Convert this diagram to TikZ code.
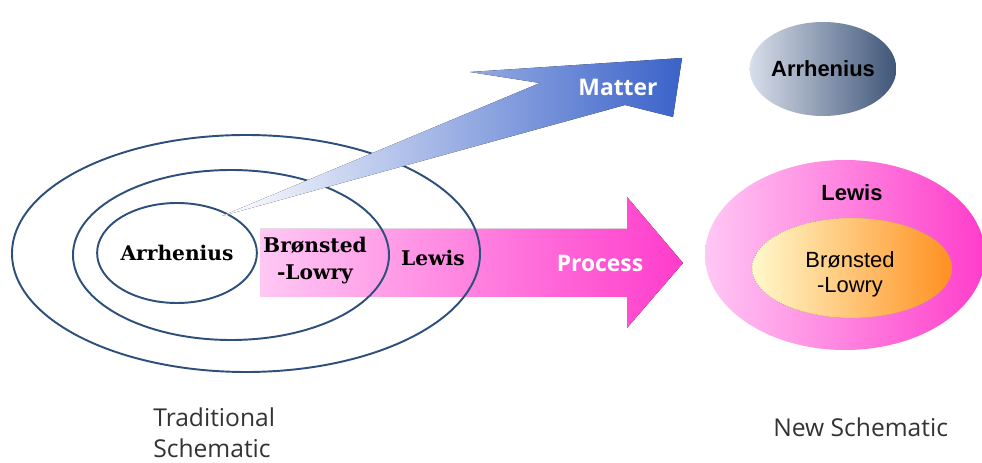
\documentclass[tikz,border=0pt]{standalone}
\usepackage{fontspec}
\usetikzlibrary{shapes.geometric}
\setmainfont{Open Sans}
\newfontfamily\slabfont{DejaVu Serif}
\newfontfamily\arialfont{Liberation Sans}
\definecolor{ringline}{HTML}{2C4F7C}
\definecolor{pinklight}{HTML}{FFC8F4}
\definecolor{pinkdeep}{HTML}{FF3CCB}
\definecolor{matterblue}{HTML}{3A62C9}
\definecolor{slatelight}{HTML}{D8DEEA}
\definecolor{slatedark}{HTML}{3F5678}
\definecolor{creamlight}{HTML}{FFF9CC}
\definecolor{orangedeep}{HTML}{FF9020}
\definecolor{rimgreen}{HTML}{A0A880}
\definecolor{captiongray}{HTML}{333333}

\begin{document}
\begin{tikzpicture}[
  ring/.style={ellipse, draw=ringline, line width=1.1pt, inner sep=0pt},
  oldlabel/.style={font=\slabfont\bfseries\fontsize{11.5}{15.4}\selectfont, align=center},
  newlabel/.style={font=\arialfont\fontsize{12.5}{14.2}\selectfont, align=center},
  boldlabel/.style={font=\arialfont\bfseries\fontsize{12.5}{14.2}\selectfont},
  flowlabel/.style={font=\bfseries\fontsize{13}{15}\selectfont, text=white},
  caption/.style={font=\fontsize{14}{18}\selectfont, text=captiongray, align=left, anchor=north west, inner sep=0pt}
]
  \useasboundingbox (0,0) rectangle (19.64,9.24);
  \fill[left color=pinklight, right color=pinkdeep] (5.2,4.66) -- (12.54,4.66) -- (12.54,5.30) -- (13.66,3.98) -- (12.54,2.68) -- (12.54,3.30) -- (5.2,3.30) -- cycle;
  \node[flowlabel] (process) at (12.0,3.98) {Process};

  \node[ring, minimum width=9.36cm, minimum height=4.74cm] (outer) at (4.92,4.17) {};
  \node[ring, minimum width=6.32cm, minimum height=3.4cm] (middle) at (4.62,4.14) {};
  \node[ring, oldlabel, minimum width=2.68cm, minimum height=2.0cm] (inner) at (3.54,4.18) {Arrhenius};
  \node[oldlabel] (bronsted) at (6.3,4.02) {Brønsted\\-Lowry};
  \node[oldlabel] (lewis) at (8.66,4.08) {Lewis};

  \fill[left color=white, middle color=matterblue!78!white, right color=matterblue] (4.44,4.92) -- (10.8,7.58) -- (9.4,7.8) -- (13.64,8.08) -- (13.46,6.9) -- (12.5,7.14) -- cycle;
  \node[flowlabel] (matter) at (12.36,7.5) {Matter};

  \node[ellipse, inner sep=0pt, left color=slatelight, right color=slatedark, minimum width=2.8cm, minimum height=1.88cm, boldlabel] (arrheniusnew) at (16.46,7.86) {Arrhenius};
  \node[ellipse, inner sep=0pt, left color=pinklight, right color=pinkdeep, minimum width=5.6cm, minimum height=3.8cm] (lewisnew) at (16.9,4.14) {};
  \node[ellipse, inner sep=0pt, draw=rimgreen, densely dotted, left color=creamlight, right color=orangedeep, minimum width=4cm, minimum height=2cm] (bronstednew) at (17.04,3.88) {};
  \node[boldlabel] (lewistext) at (17.04,5.38) {Lewis};
  \node[newlabel] (bronstedtext) at (17.0,3.75) {Brønsted\\-Lowry};

  \node[caption] (tradcaption) at (3.06,1.1) {Traditional\\Schematic};
  \node[caption] (newcaption) at (15.46,0.9) {New Schematic};
\end{tikzpicture}
\end{document}
